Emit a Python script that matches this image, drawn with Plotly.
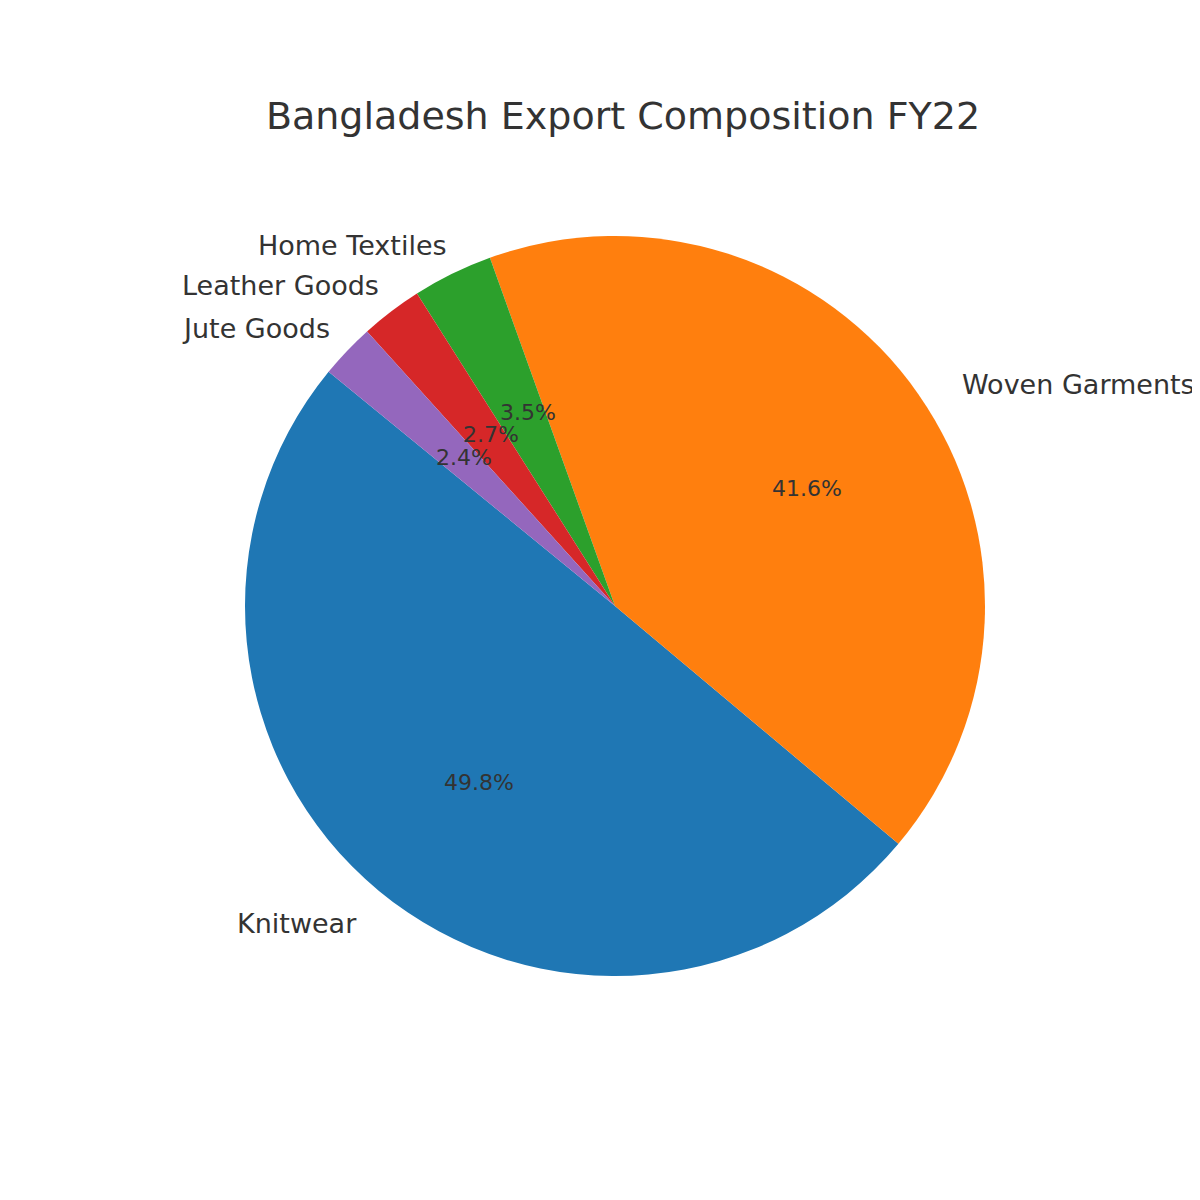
import numpy as np
import plotly.graph_objects as go

labels = ["Knitwear", "Woven Garments", "Home Textiles", "Leather Goods", "Jute Goods"]
values = [49.8, 41.6, 3.5, 2.7, 2.4]
colors = ["#1f77b4", "#ff7f0e", "#2ca02c", "#d62728", "#9467bd"]

W = 1200
cx, cy, r = 615, 595, 370  # centre (from bottom) and radius in px
start = 140

fig = go.Figure(go.Pie(
    labels=labels, values=values, sort=False, direction="counterclockwise",
    rotation=start - 10, marker=dict(colors=colors, line=dict(width=0)),
    textinfo="none", hoverinfo="label+percent", showlegend=False,
    domain=dict(x=[(cx - 8 - r) / W, (cx - 8 + r) / W], y=[(cy + 7 - r) / W, (cy + 7 + r) / W]),
))

total = sum(values)
ang = start
for lab, v in zip(labels, values):
    mid = np.radians(ang + 180 * v / total)
    ang += 360 * v / total
    c, s = np.cos(mid), np.sin(mid)
    fig.add_annotation(x=(cx + 1.1 * r * c) / W, y=(cy + 1.1 * r * s) / W, xref="paper", yref="paper",
                       text=lab, showarrow=False, xanchor="left" if c > 0 else "right", yanchor="middle",
                       font=dict(size=27, color="#333333"))
    fig.add_annotation(x=(cx + 0.6 * r * c) / W, y=(cy + 0.6 * r * s) / W, xref="paper", yref="paper",
                       text=f"{100 * v / total:.1f}%", showarrow=False, xanchor="center", yanchor="middle",
                       font=dict(size=22, color="#333333"))

fig.update_layout(
    width=1200, height=1200, margin=dict(l=0, r=0, t=0, b=0),
    paper_bgcolor="white", font=dict(family="DejaVu Sans", color="#333333"),
    title=dict(text="Bangladesh Export Composition FY22", x=0.5125, xanchor="center",
               y=1 - 108 / W, yanchor="middle", font=dict(size=38, color="#333333")),
)
fig.write_html("out.html")
